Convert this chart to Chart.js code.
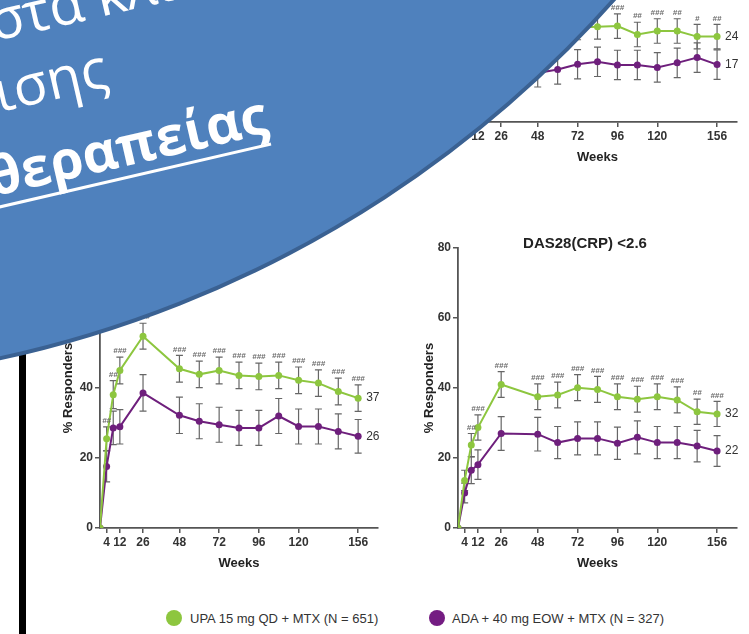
<!DOCTYPE html>
<html>
<head>
<meta charset="utf-8">
<script src="https://cdn.jsdelivr.net/npm/chart.js@4.4.1/dist/chart.umd.min.js"></script>
<style>
  html, body { margin: 0; padding: 0; background: #fff; }
  body { position: relative; width: 749px; height: 634px; overflow: hidden; font-family: Arial, "Liberation Sans", sans-serif; }
  canvas { position: absolute; }
  #chartTop { left: 400px; top: -200px; }
  #chartLeft { left: 0; top: 230px; }
  #chartRight { left: 400px; top: 230px; }
  .bar { position: absolute; left: 19px; top: 300px; width: 7px; height: 334px; background: #000; }
  .legend { position: absolute; top: 611px; font-size: 13px; line-height: 15px; color: #333; white-space: nowrap; }
  .dot { position: absolute; top: 610px; width: 16px; height: 16px; border-radius: 50%; }
  svg.banner { position: absolute; left: 0; top: 0; }
</style>
</head>
<body>
<canvas id="chartTop" width="349" height="374"></canvas>
<canvas id="chartLeft" width="400" height="350"></canvas>
<canvas id="chartRight" width="349" height="350"></canvas>
<div class="bar"></div>

<div class="dot" style="left:166px; background:#8dc63f;"></div>
<div class="legend" style="left:190px;">UPA 15 mg QD + MTX (N = 651)</div>
<div class="dot" style="left:429px; background:#741c82;"></div>
<div class="legend" style="left:452px;">ADA + 40 mg EOW + MTX (N = 327)</div>

<svg class="banner" width="749" height="634">
  <circle cx="-242" cy="-761" r="1145" fill="#4f81bd" stroke="#3a6192" stroke-width="4"/>
  <g font-family="Open Sans, Noto Sans, sans-serif" fill="#fff">
    <text x="-6" y="40" font-size="56" transform="rotate(-13 0 40)">στα κλι</text>
    <text x="-1" y="112" font-size="56" transform="rotate(-13 0 112)">ισης</text>
    <text x="-8" y="195" font-size="54" font-weight="bold" transform="rotate(-13 0 195)">θεραπείας</text>
  </g>
  <line x1="-5" y1="208" x2="271" y2="144" stroke="#fff" stroke-width="3"/>
</svg>

<script>
const weeks = [0, 4, 8, 12, 26, 48, 60, 72, 84, 96, 108, 120, 132, 144, 156];
const weekTicks = [4, 12, 26, 48, 72, 96, 120, 156];
const yTicks = [0, 20, 40, 60, 80];

// top panel, mostly covered by the banner
const topUpa = [0, 6, 11, 14, 22, 25, 26, 27, 27.2, 27.4, 25.0, 26.0, 26.0, 24.4, 24.4];
const topAda = [0, 3, 6, 8, 13, 14, 15.0, 16.5, 17.2, 16.3, 16.3, 15.6, 16.9, 18.4, 16.4];
const topUpaErr = [0, 2, 3, 3, 3.5, 3.5, 3.5, 3.5, 3.5, 3.5, 3.5, 3.5, 3.5, 3.5, 3.5];
const topAdaErr = [0, 2, 3, 3.5, 4, 4, 4.2, 4.2, 4.2, 4.2, 4.2, 4.2, 4.2, 4.2, 4.2];
const topSig = ['', '', '#', '##', '###', '###', '###', '###', '###', '###', '##', '###', '##', '#', '##'];
const topEnd = ['24', '17'];

// bottom left panel
const leftUpa = [0, 25.5, 38.1, 45.0, 54.8, 45.5, 43.9, 45.0, 43.6, 43.3, 43.6, 42.2, 41.4, 39.0, 37.1];
const leftAda = [0, 17.6, 28.6, 28.9, 38.6, 32.2, 30.5, 29.5, 28.6, 28.6, 32.0, 29.0, 29.0, 27.6, 26.2];
const leftUpaErr = [0, 3.4, 4.0, 3.8, 3.7, 3.8, 3.8, 3.8, 3.8, 3.8, 3.8, 3.8, 3.8, 3.8, 3.8];
const leftAdaErr = [0, 4.4, 4.8, 4.9, 5.2, 5.2, 5.0, 5.0, 5.0, 5.0, 5.0, 5.0, 5.0, 5.0, 4.8];
const leftSig = ['', '##', '##', '###', '###', '###', '###', '###', '###', '###', '###', '###', '###', '###', '###'];
const leftEnd = ['37', '26'];

// bottom right panel: DAS28(CRP) <2.6
const rightUpa = [0, 13.6, 23.7, 28.7, 41.0, 37.5, 38.0, 40.1, 39.6, 37.5, 36.8, 37.5, 36.6, 33.2, 32.6];
const rightAda = [0, 10.0, 16.5, 18.1, 27.0, 26.8, 24.4, 25.6, 25.6, 24.2, 25.9, 24.4, 24.4, 23.4, 22.0];
const rightUpaErr = [0, 2.9, 3.3, 3.6, 3.7, 3.7, 3.7, 3.7, 3.7, 3.7, 3.7, 3.7, 3.7, 3.6, 3.6];
const rightAdaErr = [0, 2.8, 3.8, 4.2, 4.8, 4.8, 4.6, 4.7, 4.7, 4.6, 4.7, 4.6, 4.6, 4.5, 4.4];
const rightSig = ['', '', '##', '###', '###', '###', '###', '###', '###', '###', '###', '###', '###', '##', '###'];
const rightEnd = ['32', '22'];

const GREEN = '#8dc63f';
const PURPLE = '#6e1f7c';
const AXIS = '#555';

Chart.defaults.font.family = 'Arial, "Liberation Sans", sans-serif';

// error bars under the lines, "#" marks and end values on top
const panelExtras = {
    id: 'panelExtras',
    beforeDatasetsDraw(chart) {
        const { ctx, scales: { x, y } } = chart;
        ctx.save();
        ctx.strokeStyle = '#666';
        ctx.lineWidth = 1.2;
        chart.data.datasets.forEach((ds) => {
            ds.errors.forEach((e, i) => {
                if (!e) return;
                const px = x.getPixelForValue(weeks[i]);
                const t = y.getPixelForValue(ds.values[i] + e);
                const b = y.getPixelForValue(ds.values[i] - e);
                ctx.beginPath();
                ctx.moveTo(px, t); ctx.lineTo(px, b);
                ctx.moveTo(px - 3.5, t); ctx.lineTo(px + 3.5, t);
                ctx.moveTo(px - 3.5, b); ctx.lineTo(px + 3.5, b);
                ctx.stroke();
            });
        });
        ctx.restore();
    },
    afterDatasetsDraw(chart, args, opts) {
        const { ctx, scales: { x, y } } = chart;
        ctx.save();
        chart.data.datasets.forEach((ds) => {
            const last = ds.values.length - 1;
            ctx.fillStyle = '#333';
            ctx.font = '12px Arial, "Liberation Sans", sans-serif';
            ctx.textAlign = 'left';
            ctx.textBaseline = 'middle';
            ctx.fillText(ds.endLabel, x.getPixelForValue(weeks[last]) + 8, y.getPixelForValue(ds.values[last]));
            if (ds.sig) {
                ctx.fillStyle = '#6a6a6a';
                ctx.font = 'italic bold 8px Arial, "Liberation Sans", sans-serif';
                ctx.textAlign = 'center';
                ctx.textBaseline = 'bottom';
                ds.sig.forEach((s, i) => {
                    if (!s) return;
                    const py = y.getPixelForValue(ds.values[i] + ds.errors[i]);
                    ctx.fillText(s, x.getPixelForValue(weeks[i]), py - 2);
                });
            }
        });
        if (opts.title) {
            ctx.fillStyle = '#222';
            ctx.font = 'bold 15px Arial, "Liberation Sans", sans-serif';
            ctx.textAlign = 'center';
            ctx.textBaseline = 'middle';
            ctx.fillText(opts.title, opts.titleX, opts.titleY);
        }
        ctx.restore();
    }
};

function makePanel(id, upa, ada, upaErr, adaErr, sig, endLabels, pad, yWidth, title) {
    const ctx = document.getElementById(id).getContext('2d');
    return new Chart(ctx, {
        type: 'line',
        data: {
            datasets: [
                {
                    label: 'UPA 15 mg QD + MTX (N = 651)',
                    data: weeks.map((w, i) => ({ x: w, y: upa[i] })),
                    values: upa, errors: upaErr, sig: sig, endLabel: endLabels[0],
                    borderColor: GREEN, backgroundColor: GREEN,
                    borderWidth: 2, pointRadius: 3.5, pointBorderWidth: 0,
                },
                {
                    label: 'ADA + 40 mg EOW + MTX (N = 327)',
                    data: weeks.map((w, i) => ({ x: w, y: ada[i] })),
                    values: ada, errors: adaErr, sig: null, endLabel: endLabels[1],
                    borderColor: PURPLE, backgroundColor: PURPLE,
                    borderWidth: 2, pointRadius: 3.5, pointBorderWidth: 0,
                },
            ],
        },
        options: {
            responsive: false,
            animation: false,
            layout: { padding: pad },
            plugins: {
                legend: { display: false },
                tooltip: { enabled: false },
                panelExtras: title ? { title: title.text, titleX: title.x, titleY: title.y } : {},
            },
            scales: {
                x: {
                    type: 'linear',
                    min: 0,
                    max: 168,
                    afterBuildTicks: (scale) => { scale.ticks = weekTicks.map((v) => ({ value: v })); },
                    afterFit: (scale) => { scale.height = 52; },
                    grid: { drawOnChartArea: false, drawTicks: true, tickLength: 5, color: AXIS, lineWidth: 1.5 },
                    border: { display: true, color: AXIS, width: 1.8 },
                    ticks: { color: '#333', padding: 2, font: { size: 12, weight: 'bold' } },
                    title: { display: true, text: 'Weeks', color: '#222', font: { size: 13, weight: 'bold' }, padding: { top: 0, bottom: 9 } },
                },
                y: {
                    min: 0,
                    max: 80,
                    afterBuildTicks: (scale) => { scale.ticks = yTicks.map((v) => ({ value: v })); },
                    afterFit: (scale) => { scale.width = yWidth; },
                    grid: { drawOnChartArea: false, drawTicks: true, tickLength: 5, color: AXIS, lineWidth: 1.5 },
                    border: { display: true, color: AXIS, width: 1.8 },
                    ticks: { color: '#333', padding: 2, font: { size: 12, weight: 'bold' } },
                    title: { display: true, text: '% Responders', color: '#222', font: { size: 13, weight: 'bold' }, padding: { top: 4, bottom: 4 } },
                },
            },
        },
        plugins: [panelExtras],
    });
}

makePanel('chartTop', topUpa, topAda, topUpaErr, topAdaErr, topSig, topEnd,
    { left: 18, right: 12, top: 42, bottom: 0 }, 40, null);
makePanel('chartLeft', leftUpa, leftAda, leftUpaErr, leftAdaErr, leftSig, leftEnd,
    { left: 57, right: 22, top: 18, bottom: 0 }, 43, null);
makePanel('chartRight', rightUpa, rightAda, rightUpaErr, rightAdaErr, rightSig, rightEnd,
    { left: 18, right: 12, top: 18, bottom: 0 }, 40, { text: 'DAS28(CRP) <2.6', x: 185, y: 14 });
</script>
</body>
</html>
